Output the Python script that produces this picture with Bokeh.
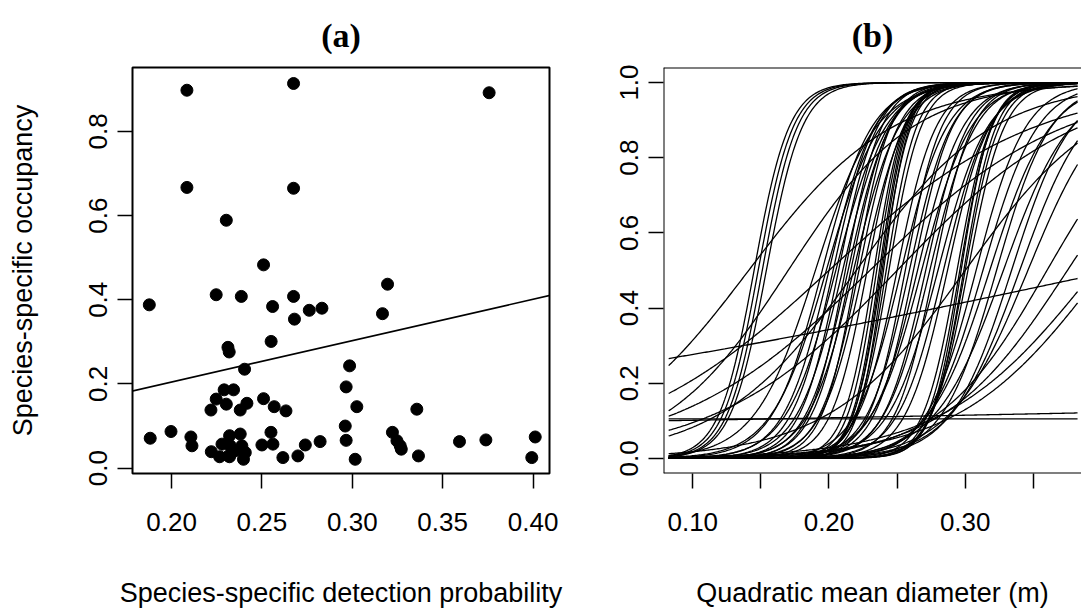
import numpy as np
from bokeh.plotting import figure
from bokeh.layouts import row
from bokeh.models import FixedTicker, Slope, Span, Range1d
from bokeh.embed import file_html
from bokeh.resources import INLINE

# ---------------- Panel (a): detection probability vs occupancy ----------------
det_prob = [0.2085, 0.2675, 0.2085, 0.2675, 0.2303, 0.2509, 0.3195, 0.3757,
            0.1877, 0.2247, 0.2386, 0.2559, 0.2675, 0.2680, 0.2762, 0.2832, 0.3167,
            0.2551, 0.2312, 0.2319, 0.2404, 0.2985, 0.2966, 0.2291, 0.2343,
            0.2247, 0.2303, 0.2417, 0.2380, 0.2218, 0.2509, 0.2568, 0.2633, 0.3025,
            0.3357,
            0.1882, 0.1997, 0.2107, 0.2113, 0.2220, 0.2266, 0.2279, 0.2321, 0.2325,
            0.2321, 0.2380, 0.2389, 0.2408, 0.2398, 0.2352, 0.2315, 0.2500, 0.2550,
            0.2561, 0.2616, 0.2699, 0.2740, 0.2822, 0.2961, 0.2966, 0.3016, 0.3222,
            0.3247, 0.3265, 0.3271, 0.3366, 0.3593, 0.3739, 0.4012, 0.3993]
occupancy = [0.898, 0.914, 0.667, 0.665, 0.589, 0.483, 0.437, 0.892,
             0.388, 0.412, 0.408, 0.384, 0.408, 0.354, 0.375, 0.380, 0.367,
             0.301, 0.287, 0.276, 0.235, 0.243, 0.193, 0.186, 0.186,
             0.164, 0.152, 0.154, 0.138, 0.138, 0.165, 0.146, 0.136, 0.146,
             0.140,
             0.071, 0.087, 0.074, 0.053, 0.039, 0.027, 0.057, 0.077, 0.053,
             0.027, 0.081, 0.053, 0.037, 0.021, 0.041, 0.029, 0.055, 0.085,
             0.057, 0.025, 0.029, 0.055, 0.063, 0.100, 0.066, 0.021, 0.085,
             0.065, 0.053, 0.045, 0.029, 0.063, 0.067, 0.074, 0.025]
fit_intercept = 0.008
fit_slope = 0.983

a_xticks = [0.20, 0.25, 0.30, 0.35, 0.40]
a_xlabels = ["0.20", "0.25", "0.30", "0.35", "0.40"]
a_yticks = [0.0, 0.2, 0.4, 0.6, 0.8]
a_ylabels = ["0.0", "0.2", "0.4", "0.6", "0.8"]

# ---------------- Panel (b): species occupancy curves vs QMD ----------------
# logit(psi) = coef_a + coef_b * qmd, one pair per species
coef_a = [-11.31, -11.544, -11.778, -11.704,
          -2.679, -2.66, -1.271, -2.14, -2.25,
          -8.55, -10.725, -9.9, -12.0, -13.195, -11.275, -14.49, -12.6,
          -15.9, -13.91, -15.12, -13.08, -17.6, -15.54, -14.625, -17.1,
          -20.97, -22.325, -23.7, -23.8, -22.705, -25.2, -21.78, -20.74,
          -17.5, -15.18, -19.2, -16.835, -18.34, -15.9, -14.74, -17.615,
          -16.44, -19.39, -15.4, -17.04, -18.655,
          -23.52, -25.16, -26.73, -25.415, -24.0, -22.65,
          -16.94, -15.65, -14.31, -16.15, -13.12, -15.03, -13.6, -12.11,
          -9.0, -8.25, -7.54, -7.11,
          -6.0, -4.4, -3.75, -3.74, -3.22]
coef_b = [78, 78, 78, 76,
          19, 13.3, 3.1, 0.0, 0.7,
          45, 55, 50, 60, 65, 55, 70, 60,
          75, 65, 70, 60, 80, 70, 65, 75,
          90, 95, 100, 100, 95, 105, 90, 85,
          70, 60, 75, 65, 70, 60, 55, 65,
          60, 70, 55, 60, 65,
          80, 85, 90, 85, 80, 75,
          55, 50, 45, 50, 40, 45, 40, 35,
          25, 22, 18.8, 18,
          20, 20, 15, 22, 14]
qmd_min = 0.0823
qmd_max = 0.3825

b_xticks = [0.10, 0.15, 0.20, 0.25, 0.30, 0.35]
b_xlabels = ["0.10", "", "0.20", "", "0.30", ""]
b_yticks = [0.0, 0.2, 0.4, 0.6, 0.8, 1.0]
b_ylabels = ["0.0", "0.2", "0.4", "0.6", "0.8", "1.0"]

SANS = "Liberation Sans"
SERIF = "Liberation Serif"


def style(p, xticks, xlabels, yticks, ylabels, xlab, ylab):
    p.xgrid.visible = False
    p.ygrid.visible = False
    p.title.text_font = SERIF
    p.title.text_font_size = "34px"
    p.title.text_font_style = "bold"
    p.title.text_color = "black"
    p.title.align = "center"
    p.title.standoff = 28
    p.xaxis.ticker = FixedTicker(ticks=xticks)
    p.yaxis.ticker = FixedTicker(ticks=yticks)
    p.xaxis.major_label_overrides = dict(zip(xticks, xlabels))
    p.yaxis.major_label_overrides = dict(zip(yticks, ylabels))
    for ax in (p.xaxis[0], p.yaxis[0]):
        ax.axis_line_color = None
        ax.major_tick_in = 0
        ax.major_tick_out = 15
        ax.major_tick_line_width = 1.5
        ax.major_tick_line_color = "black"
        ax.minor_tick_line_color = None
        ax.major_label_text_font = SANS
        ax.major_label_text_color = "black"
        ax.major_label_text_font_size = "26px"
        ax.axis_label_text_font = SANS
        ax.axis_label_text_font_style = "normal"
        ax.axis_label_text_font_size = "27px"
        ax.axis_label_text_color = "black"
    p.xaxis.axis_label = xlab
    p.yaxis.axis_label = ylab
    p.yaxis.major_label_orientation = "vertical"
    p.xaxis.major_label_standoff = 24
    p.yaxis.major_label_standoff = 10
    p.xaxis.axis_label_standoff = 44
    p.yaxis.axis_label_standoff = 49


p1 = figure(frame_width=417, frame_height=406, min_border_left=132, min_border_right=24,
            min_border_top=67, min_border_bottom=144, output_backend="svg",
            toolbar_location=None, title="(a)",
            x_range=Range1d(0.1784, 0.4091), y_range=Range1d(-0.0128, 0.952))
style(p1, a_xticks, a_xlabels, a_yticks, a_ylabels,
      "Species-specific detection probability", "Species-specific occupancy")
p1.outline_line_color = "black"
p1.outline_line_width = 2
p1.outline_line_alpha = 1
p1.scatter(det_prob, occupancy, size=12, color="black", marker="circle")
p1.add_layout(Slope(gradient=fit_slope, y_intercept=fit_intercept,
                    line_color="black", line_width=1.6))

p2 = figure(frame_width=418, frame_height=406, min_border_left=90, min_border_right=0,
            min_border_top=67, min_border_bottom=144, output_backend="svg",
            toolbar_location=None, title="(b)",
            x_range=Range1d(0.0785, 0.3854), y_range=Range1d(-0.04, 1.04))
style(p2, b_xticks, b_xlabels, b_yticks, b_ylabels,
      "Quadratic mean diameter (m)", "")
p2.yaxis.axis_label = None
p2.outline_line_color = None
qmd = np.linspace(qmd_min, qmd_max, 300)
xs, ys = [], []
for a, b in zip(coef_a, coef_b):
    xs.append(qmd)
    ys.append(1.0 / (1.0 + np.exp(-(a + b * qmd))))
p2.multi_line(xs, ys, line_color="black", line_width=1.3)
for loc, dim in ((p2.y_range.start, "width"), (p2.y_range.end, "width"),
                 (p2.x_range.start, "height")):
    p2.add_layout(Span(location=loc, dimension=dim, line_color="black", line_width=2))

layout = row(p1, p2)
open("out.html", "w").write(file_html(layout, INLINE))
